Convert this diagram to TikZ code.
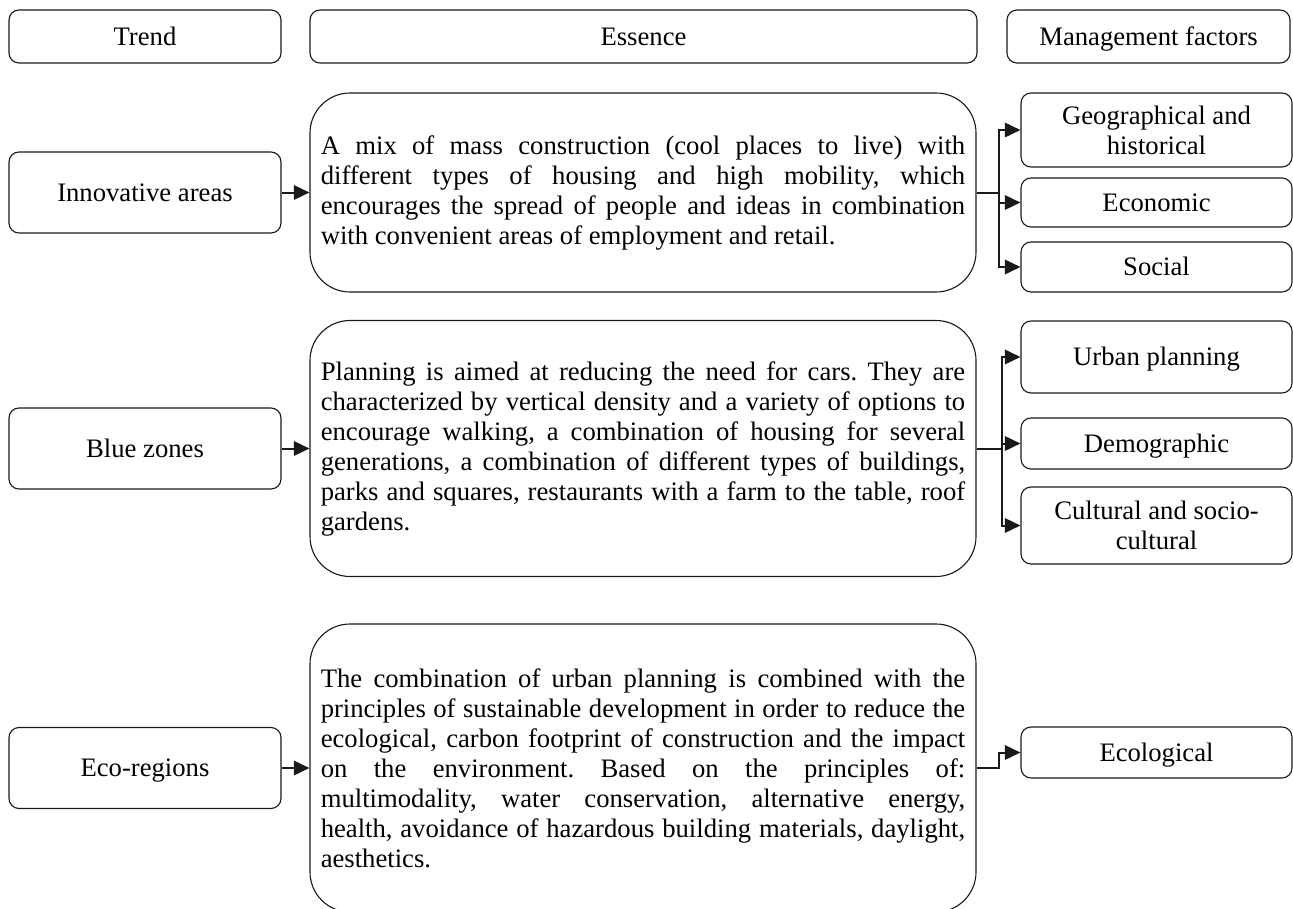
\documentclass[tikz,border=0pt]{standalone}
\usepackage{fontspec}
\setmainfont{Liberation Serif}
\usepackage{tikz}
\usepackage{xcolor}
\usetikzlibrary{arrows.meta, positioning, calc}
\definecolor{FrameBlack}{HTML}{1A1A1A}
\definecolor{PageWhite}{HTML}{ffffff}
\newcommand{\boxfont}{\fontsize{12pt}{13.5pt}\selectfont\frenchspacing}
\tikzset{
    % Box styles - rounded corners
    headerbox/.style={
        rectangle,
        rounded corners=4.5pt,
        draw=FrameBlack,
        fill=PageWhite,
        line width=0.5pt,
        minimum height=23.85pt,
        inner sep=2pt,
        align=center,
        font=\boxfont
    },
    trendbox/.style={
        rectangle,
        rounded corners=4.5pt,
        draw=FrameBlack,
        fill=PageWhite,
        line width=0.5pt,
        minimum width=122.4pt,
        minimum height=36.45pt,
        align=center,
        font=\boxfont
    },
    essencebox/.style={
        rectangle,
        rounded corners=18pt,
        draw=FrameBlack,
        fill=PageWhite,
        line width=0.5pt,
        minimum width=299.7pt,
        text width=290pt,
        inner xsep=4.8pt,
        align=justify,
        font=\boxfont\hyphenpenalty10000\relax
    },
    factorbox/.style={
        rectangle,
        rounded corners=4.5pt,
        draw=FrameBlack,
        fill=PageWhite,
        line width=0.5pt,
        minimum width=121.95pt,
        inner sep=1pt,
        align=center,
        font=\boxfont
    },
    oneline/.style={
        text height=10.5pt,
        text depth=2.6pt
    },
    % Connector styles
    link/.style={
        line width=0.9pt,
        draw=FrameBlack
    },
    arrow/.style={
        ->,
        >={Triangle[length=7pt,width=6.5pt]},
        line width=0.9pt,
        draw=FrameBlack
    }
}

\begin{document}
\begin{tikzpicture}[x=0.45pt, y=-0.45pt]
    \useasboundingbox (0,0) rectangle (1293,908);

    % Column headers
    \node[headerbox, oneline, minimum width=122.4pt] (htrend) at (145,36.5) {Trend};
    \node[headerbox, oneline, minimum width=300.15pt] (hessence) at (643.5,36.5) {Essence};
    \node[headerbox, oneline, minimum width=127.35pt] (hfactors) at (1148.5,36.5) {Management factors};

    % Row 1: innovative areas
    \node[trendbox, oneline] (innov) at (145,192.5) {Innovative areas};
    \node[essencebox, minimum height=89.55pt] (ess1) at (643,192.5) {A mix of mass construction (cool places to live) with\linebreak different types of housing and high mobility, which\linebreak encourages the spread of people and ideas in combination\linebreak with convenient areas of employment and retail.};
    \node[factorbox, minimum height=33.3pt] (geo) at (1156.5,130) {Geographical and\\historical};
    \node[factorbox, oneline, minimum height=22.05pt] (econ) at (1156.5,202.5) {Economic};
    \node[factorbox, oneline, minimum height=22.5pt] (social) at (1156.5,267) {Social};

    % Row 2: blue zones
    \node[trendbox, oneline] (blue) at (145,448.5) {Blue zones};
    \node[essencebox, minimum height=115.2pt] (ess2) at (643,448.5) {Planning is aimed at reducing the need for cars. They are\linebreak characterized by vertical density and a variety of options to\linebreak encourage walking, a combination of housing for several\linebreak generations, a combination of different types of buildings,\linebreak parks and squares, restaurants with a farm to the table, roof\linebreak gardens.};
    \node[factorbox, oneline, minimum height=32.4pt] (urban) at (1156.5,357) {Urban planning};
    \node[factorbox, oneline, minimum height=22.95pt] (demo) at (1156.5,443.5) {Demographic};
    \node[factorbox, minimum height=34.65pt] (cult) at (1156.5,525.5) {Cultural and socio-\\cultural};

    % Row 3: eco-regions
    \node[trendbox, oneline] (eco) at (145,768) {Eco-regions};
    \node[essencebox, minimum height=129.6pt] (ess3) at (643,768) {The combination of urban planning is combined with the\linebreak principles of sustainable development in order to reduce the\linebreak ecological, carbon footprint of construction and the impact\linebreak on the environment. Based on the principles of:\linebreak multimodality, water conservation, alternative energy,\linebreak health, avoidance of hazardous building materials, daylight,\linebreak aesthetics.};
    \node[factorbox, oneline, minimum height=22.95pt] (ecol) at (1156.5,752.5) {Ecological};

    % Junctions
    \coordinate (j1) at (999,192.5);
    \coordinate (j2) at (1002,448.5);
    \coordinate (j3) at (999,768);

    % Arrows
    \draw[arrow] (innov) -- (ess1);
    \draw[arrow] (blue) -- (ess2);
    \draw[arrow] (eco) -- (ess3);

    \draw[link] (ess1.east) -- (j1);
    \draw[arrow] (j1) |- (geo.west);
    \draw[arrow] (j1) |- (econ.west);
    \draw[arrow] (j1) |- (social.west);

    \draw[link] (ess2.east) -- (j2);
    \draw[arrow] (j2) |- (urban.west);
    \draw[arrow] (j2) |- (demo.west);
    \draw[arrow] (j2) |- (cult.west);

    \draw[arrow] (ess3.east) -- (j3) |- (ecol.west);
\end{tikzpicture}
\end{document}
